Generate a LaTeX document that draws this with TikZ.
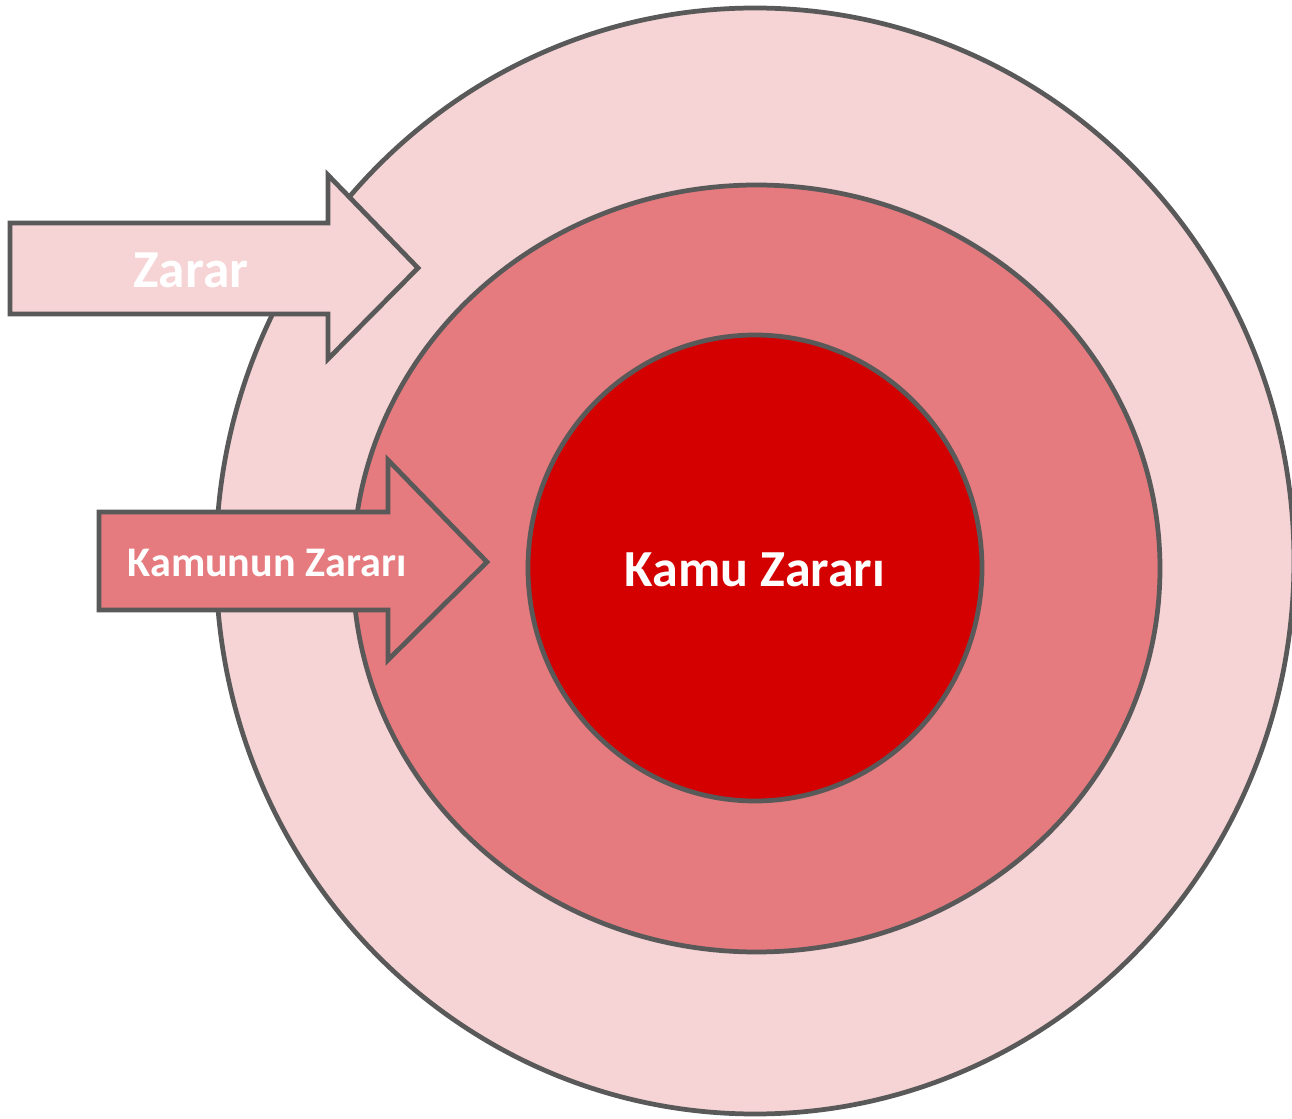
\documentclass[tikz,border=0pt]{standalone}
\usepackage{fontspec}
\setmainfont{Carlito}
\definecolor{rimgray}{HTML}{595959}
\definecolor{palepink}{HTML}{F6D3D4}
\definecolor{midpink}{HTML}{E57B7E}
\definecolor{corered}{HTML}{D40000}
\tikzset{
  ring/.style={draw=rimgray, line width=1.35pt},
  label/.style={text=white, font=\bfseries}
}
\begin{document}
\begin{tikzpicture}
		\useasboundingbox (0,0) rectangle (12.92,11.19);
		\begin{scope}
		\clip (0,0) rectangle (12.92,11.19);
		\filldraw[ring, fill=palepink] (7.55,5.58) ellipse [x radius=5.39, y radius=5.53];
		\end{scope}
		\filldraw[ring, fill=midpink] (7.565,5.505) ellipse [x radius=4.035, y radius=3.835];
		\filldraw[ring, fill=corered] (7.55,5.51) ellipse [x radius=2.27, y radius=2.33];
		
		\filldraw[ring, fill=palepink, line join=miter] (0.10,8.96) -- (3.28,8.96) -- (3.28,9.44) -- (4.18,8.51) -- (3.28,7.60) -- (3.28,8.05) -- (0.10,8.05) -- cycle;
		\filldraw[ring, fill=midpink, line join=miter] (0.99,6.07) -- (3.88,6.07) -- (3.88,6.59) -- (4.87,5.57) -- (3.88,4.59) -- (3.88,5.09) -- (0.99,5.09) -- cycle;
		
		\node[label, font=\bfseries\fontsize{15.2}{18}\selectfont] (zarar) at (1.91,8.49) {Zarar};
		\node[label, font=\bfseries\fontsize{12}{14}\selectfont] (kamunun) at (2.67,5.56) {Kamunun Zararı};
		\node[label, font=\bfseries\fontsize{14.8}{17}\selectfont] (kamu) at (7.55,5.49) {Kamu Zararı};
		
	\end{tikzpicture}
\end{document}
